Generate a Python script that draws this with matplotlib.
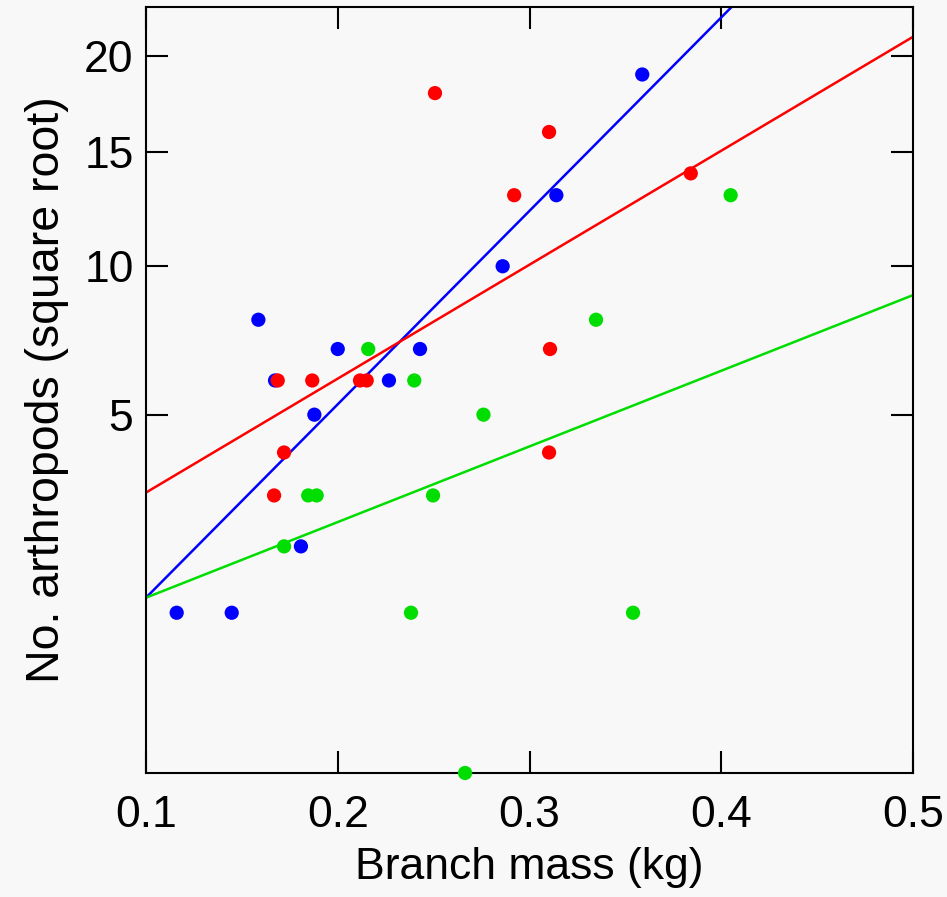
import numpy as np
import matplotlib
matplotlib.use('Agg')
import matplotlib.pyplot as plt

plt.rcParams['font.family'] = ['Liberation Sans', 'DejaVu Sans']

# datos por grupo: masa de rama (kg) y numero de artropodos
blue_x = [0.116, 0.1447, 0.1586, 0.1673, 0.1808, 0.1878, 0.2000, 0.2267, 0.2429, 0.2860, 0.3140, 0.3588]
blue_y = [1, 1, 8, 6, 2, 5, 7, 6, 7, 10, 13, 19]

red_x = [0.1687, 0.1668, 0.1720, 0.1867, 0.2116, 0.2151, 0.2507, 0.2920, 0.3102, 0.3107, 0.3102, 0.3841]
red_y = [6, 3, 4, 6, 6, 6, 18, 13, 16, 7, 4, 14]

green_x = [0.1720, 0.1846, 0.1890, 0.2159, 0.2399, 0.2382, 0.2497, 0.2760, 0.2664, 0.3347, 0.3540, 0.4049]
green_y = [2, 3, 3, 7, 6, 1, 3, 5, 0, 8, 1, 13]

# rectas ajustadas en escala raiz: sqrt(y) = a + b*x
fit_a = [-0.113, 1.039, 0.622]
fit_b = [12.07, 7.11, 4.72]

colors = ['#0000ff', '#ff0000', '#00dd00']
xticks = [0.1, 0.2, 0.3, 0.4, 0.5]
yticks = [5, 10, 15, 20]

bg = '#f8f8f8'
fig = plt.figure(figsize=(9.47, 8.97), dpi=100, facecolor=bg)
ax = fig.add_axes([146 / 947, 124 / 897, 767 / 947, 766 / 897], facecolor=bg)

ax.set_yscale('function', functions=(lambda v: np.sqrt(np.maximum(v, 0)), np.square))

# lineas primero, luego los puntos
xx = np.linspace(0.1, 0.5, 200)
for a, b, c in zip(fit_a, fit_b, colors):
    ax.plot(xx, (a + b * xx) ** 2, color=c, lw=1.8, zorder=2)

for xs, ys, c in zip([blue_x, red_x, green_x], [blue_y, red_y, green_y], colors):
    ax.scatter(xs, ys, s=105, color=c, edgecolors='none', zorder=3, clip_on=False)

ax.set_xlim(0.1, 0.5)
ax.set_ylim(0, 4.78 ** 2)
ax.set_xticks(xticks)
ax.set_xticklabels([str(t) for t in xticks])
ax.set_yticks(yticks)

for s in ax.spines.values():
    s.set_linewidth(1.5)
ax.tick_params(axis='both', direction='in', length=16, width=1.5, labelsize=32,
               top=True, right=True)
ax.tick_params(axis='x', pad=16)
ax.tick_params(axis='y', pad=9)

ax.set_xlabel('Branch mass (kg)', fontsize=32, labelpad=8)
ax.set_ylabel('No. arthropods (square root)', fontsize=33.5, labelpad=11)

fig.savefig('out.png', dpi=100, facecolor=bg)
